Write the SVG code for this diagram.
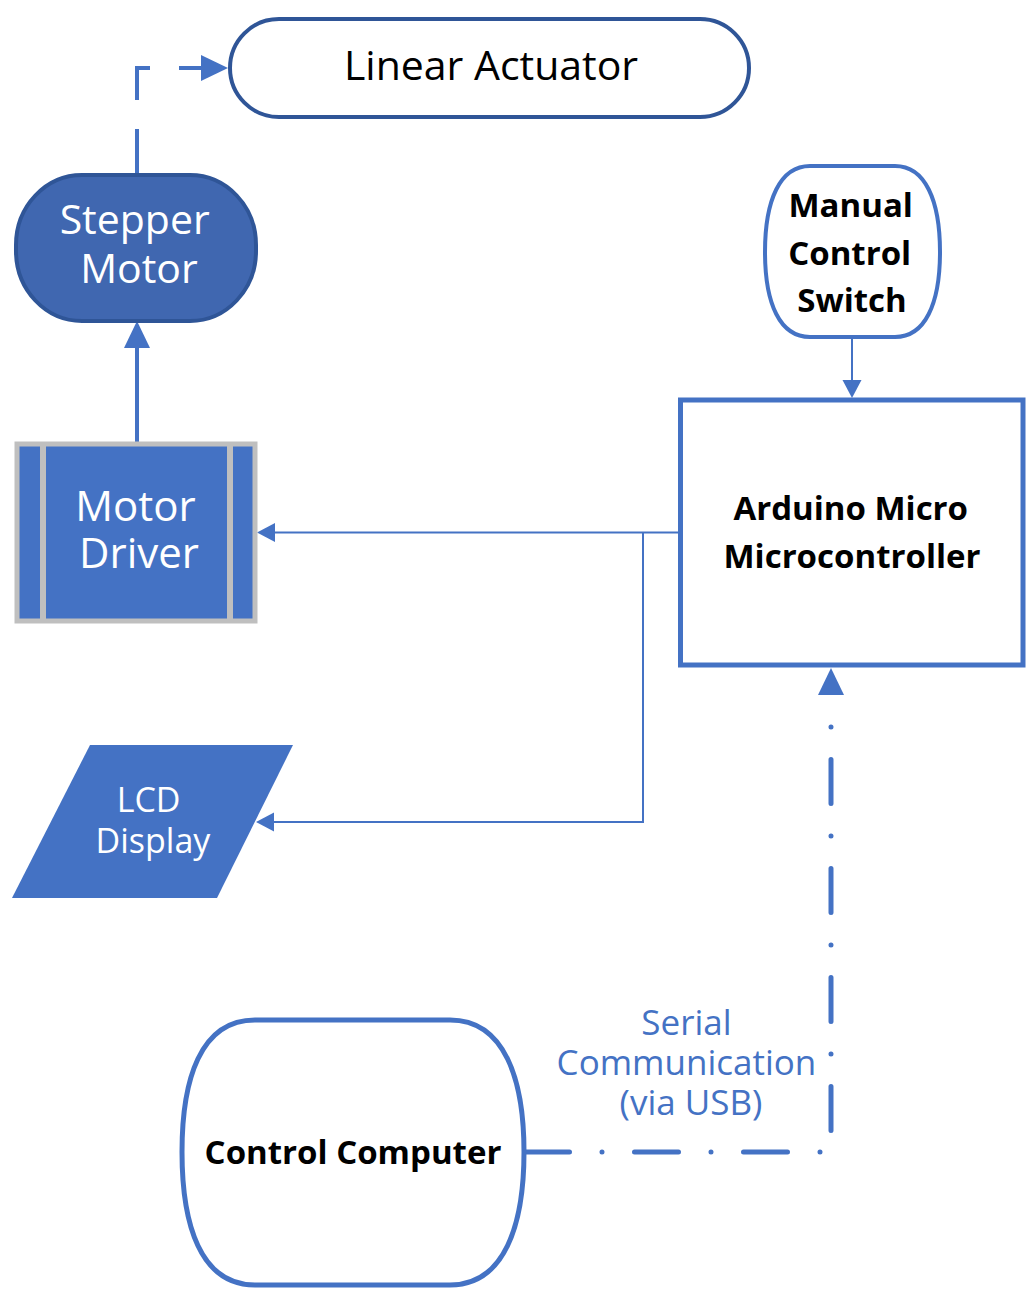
<svg xmlns="http://www.w3.org/2000/svg" width="1029" height="1300" viewBox="0 0 1029 1300">
  <style>
    .lbl { font-family: "Open Sans", "Noto Sans", "Liberation Sans", sans-serif; text-anchor: middle; }
    .white { fill: #ffffff; }
    .dark { fill: #000000; font-weight: 700; }
    .blue { fill: #4472C4; }
    .conn { fill: none; stroke: #4472C4; }
    .head { fill: #4472C4; }
  </style>
  <defs>
    <marker id="arrowLarge" markerUnits="userSpaceOnUse" markerWidth="30" markerHeight="30" refX="0" refY="13" orient="auto" overflow="visible">
      <path class="head" d="M0,0 L27,13 L0,26 Z"/>
    </marker>
    <marker id="arrowSmall" markerUnits="userSpaceOnUse" markerWidth="20" markerHeight="20" refX="0" refY="9.5" orient="auto" overflow="visible">
      <path class="head" d="M0,0 L18,9.5 L0,19 Z"/>
    </marker>
  </defs>

  <rect x="0" y="0" width="1029" height="1300" fill="#ffffff"/>

  <!-- connectors -->
  <g id="connectors">
    <!-- stepper motor drives the actuator (dashed) -->
    <path class="conn" d="M137,174 V68 H201" stroke-width="4" stroke-dasharray="45 29" marker-end="url(#arrowLarge)"/>
    <!-- driver to stepper motor -->
    <path class="conn" d="M137,442 V348" stroke-width="4" marker-end="url(#arrowLarge)"/>
    <!-- switch to microcontroller -->
    <path class="conn" d="M852,338 V380" stroke-width="2" marker-end="url(#arrowSmall)"/>
    <!-- microcontroller to motor driver -->
    <path class="conn" d="M680,532.5 H275" stroke-width="2" marker-end="url(#arrowSmall)"/>
    <!-- branch to LCD -->
    <path class="conn" d="M643,532.5 V822 H274" stroke-width="2" marker-end="url(#arrowSmall)"/>
    <!-- serial link, dash-dot -->
    <path class="conn" d="M525.5,1152 H831 V695" stroke-width="5" stroke-linecap="round" stroke-dasharray="44 32.5 0 32.5" marker-end="url(#arrowLarge)"/>
    <text class="lbl blue" font-size="35">
      <tspan x="691" y="1035">Serial</tspan>
      <tspan x="691" y="1075">Communication</tspan>
      <tspan x="691" y="1115">(via USB)</tspan>
    </text>
  </g>

  <g id="linear-actuator">
    <rect x="230" y="19" width="519" height="98" rx="49" ry="49" fill="#ffffff" stroke="#2F5597" stroke-width="4"/>
    <text class="lbl" x="491" y="80" font-size="41" fill="#000000">Linear Actuator</text>
  </g>

  <g id="stepper-motor">
    <rect x="16" y="175" width="240" height="146" rx="66" ry="70" fill="#4067B0" stroke="#2F5597" stroke-width="4"/>
    <text class="lbl white" font-size="41">
      <tspan x="140" y="234">Stepper</tspan>
      <tspan x="139" y="283">Motor</tspan>
    </text>
  </g>

  <g id="motor-driver">
    <rect x="17" y="444" width="238" height="177" fill="#4472C4" stroke="#BFBFBF" stroke-width="5"/>
    <rect x="40" y="444" width="6" height="177" fill="#BFBFBF"/>
    <rect x="227" y="444" width="6" height="177" fill="#BFBFBF"/>
    <text class="lbl white" font-size="42">
      <tspan x="141" y="521">Motor</tspan>
      <tspan x="139" y="568">Driver</tspan>
    </text>
  </g>

  <g id="lcd-display">
    <polygon points="90,745 293,745 217,898 12,898" fill="#4472C4"/>
    <text class="lbl white" font-size="34">
      <tspan x="153" y="812">LCD</tspan>
      <tspan x="153" y="853">Display</tspan>
    </text>
  </g>

  <g id="manual-switch">
    <path d="M810,166 H895 C925,166 940,200 940,252 C940,304 925,337 895,337 H810 C780,337 765,304 765,252 C765,200 780,166 810,166 Z" fill="#ffffff" stroke="#4472C4" stroke-width="4"/>
    <text class="lbl dark" font-size="33">
      <tspan x="855" y="217">Manual</tspan>
      <tspan x="854" y="265">Control</tspan>
      <tspan x="852" y="312">Switch</tspan>
    </text>
  </g>

  <g id="arduino">
    <rect x="680.5" y="400" width="342.5" height="265" fill="#ffffff" stroke="#4472C4" stroke-width="5"/>
    <text class="lbl dark" font-size="33">
      <tspan x="855" y="520">Arduino Micro</tspan>
      <tspan x="852" y="568">Microcontroller</tspan>
    </text>
  </g>

  <g id="control-computer">
    <path d="M255,1020 H450 C505,1020 524,1080 524,1152 C524,1224 505,1285 450,1285 H255 C200,1285 182,1224 182,1152 C182,1080 200,1020 255,1020 Z" fill="#ffffff" stroke="#4472C4" stroke-width="5"/>
    <text class="lbl dark" x="353" y="1164" font-size="33">Control Computer</text>
  </g>
</svg>
